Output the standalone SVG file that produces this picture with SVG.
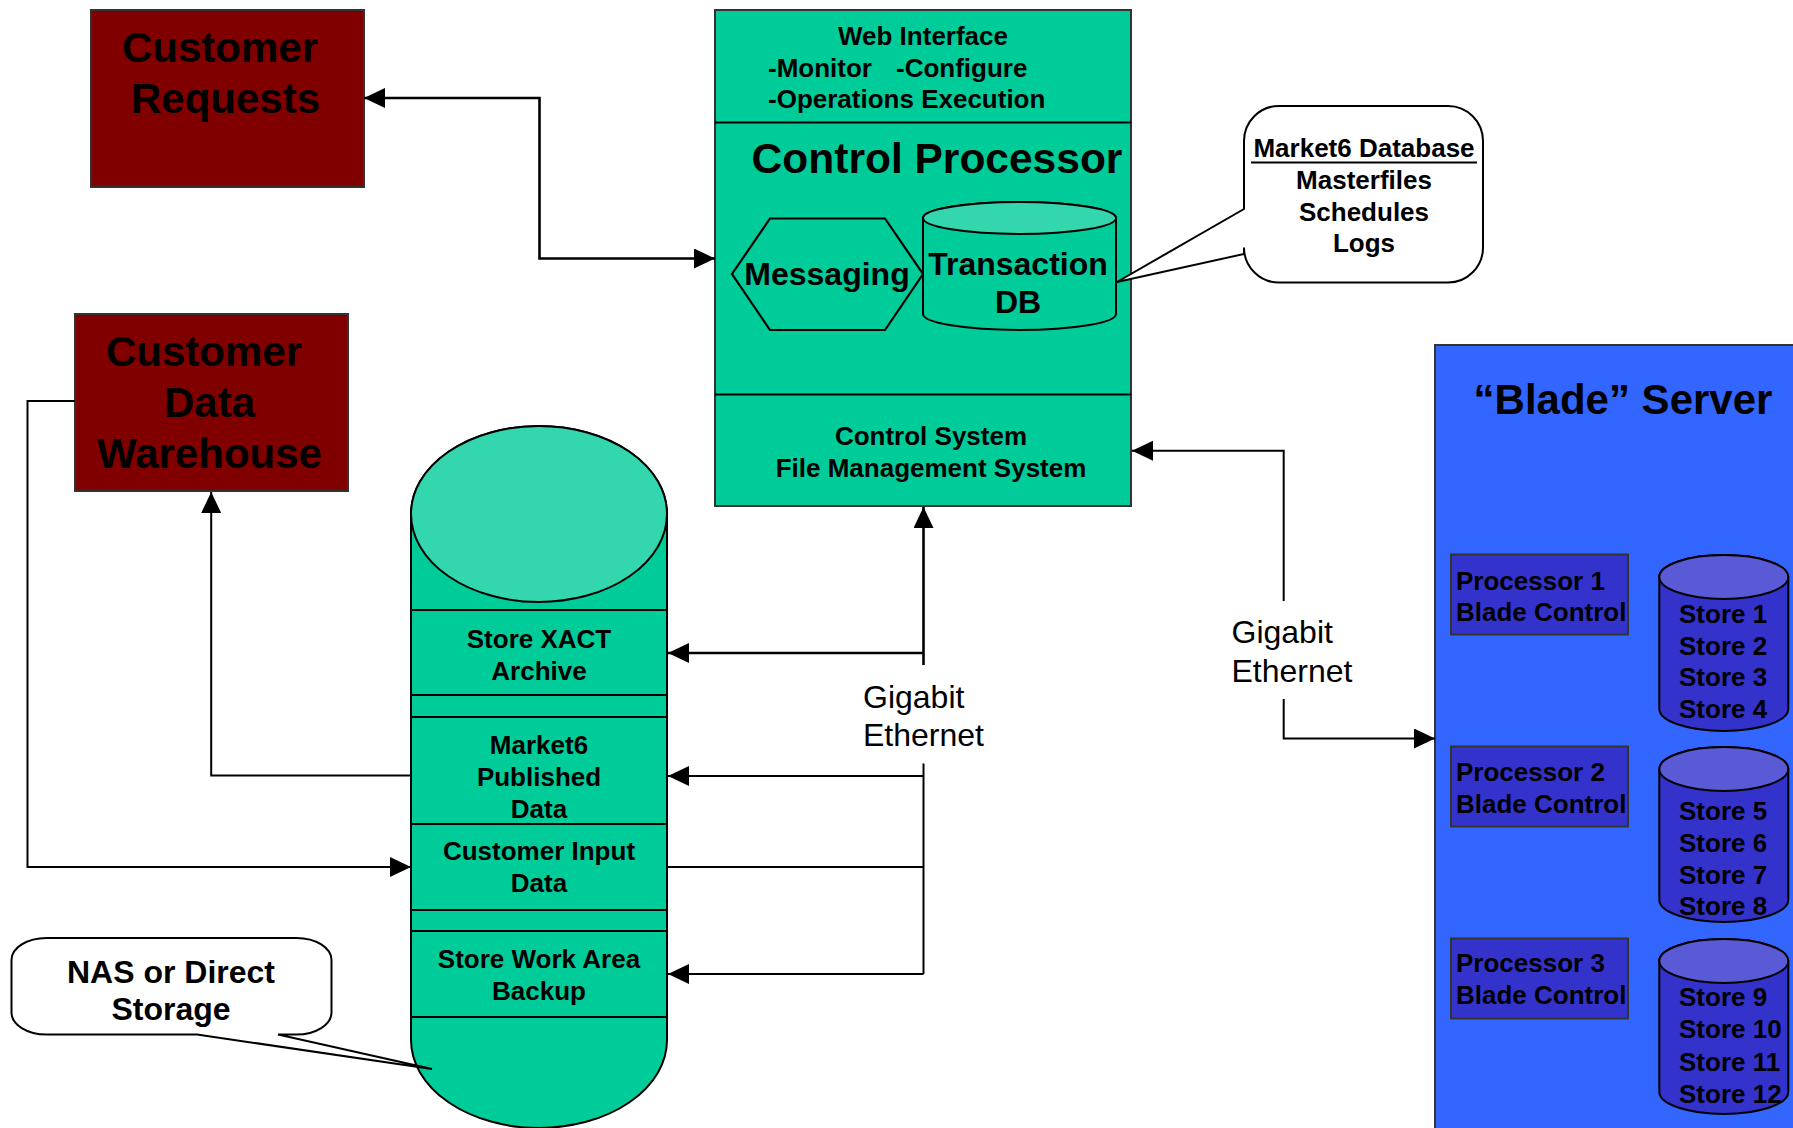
<svg xmlns="http://www.w3.org/2000/svg" width="1793" height="1128" viewBox="0 0 1793 1128">
  <defs>
    <marker id="arrow" markerUnits="userSpaceOnUse" markerWidth="22" markerHeight="22" refX="21" refY="10" orient="auto-start-reverse">
      <path d="M0,0 L21,10 L0,20 Z" fill="#000"/>
    </marker>
  </defs>
  <style>
    text { font-family: "Liberation Sans", Arial, Helvetica, sans-serif; font-weight: bold; fill: #000; }
    .t42 { font-size: 42px; }
    .t32 { font-size: 32px; }
    .t26 { font-size: 26px; }
    .mid { text-anchor: middle; }
    .reg { font-weight: normal; font-size: 32px; }
    .box { stroke: #333; stroke-width: 2; }
    .maroon { fill: #800000; }
    .green { fill: #00CC99; }
    .lgreen { fill: #33D6AD; }
    .blue { fill: #3366FF; }
    .dblue { fill: #3333CC; }
    .lblue { fill: #5A5AD6; }
    .edge { stroke: #000; stroke-width: 2; fill: none; }
    .wire { fill: none; stroke: #000; stroke-width: 2; }
    .thick { stroke-width: 2.6; }
    .bubble { fill: #fff; stroke: #000; stroke-width: 2; }
  </style>

  <!-- Customer Requests -->
  <g id="customer-requests">
    <rect class="box maroon" x="91" y="10" width="273" height="177"/>
    <text class="t42 mid" x="220" y="62">Customer</text>
    <text class="t42 mid" x="225.5" y="113">Requests</text>
  </g>

  <!-- Customer Data Warehouse -->
  <g id="customer-data-warehouse">
    <rect class="box maroon" x="75" y="314" width="273" height="177"/>
    <text class="t42 mid" x="204" y="366">Customer</text>
    <text class="t42 mid" x="209.5" y="417">Data</text>
    <text class="t42 mid" x="209.5" y="468">Warehouse</text>
  </g>

  <!-- Control Processor -->
  <g id="control-processor">
    <rect class="box green" x="715" y="10" width="416" height="496"/>
    <line class="edge" x1="715" y1="122.5" x2="1131" y2="122.5"/>
    <line class="edge" x1="715" y1="394.5" x2="1131" y2="394.5"/>
    <text class="t26 mid" x="923" y="45">Web Interface</text>
    <text class="t26" x="768" y="77">-Monitor</text>
    <text class="t26" x="896" y="77">-Configure</text>
    <text class="t26" x="768" y="108">-Operations Execution</text>
    <text class="t42 mid" x="937" y="173" style="font-size:42.5px">Control Processor</text>
    <g id="messaging">
      <polygon points="732,274 770,218.5 885,218.5 923,274 885,330 770,330" fill="#00CC99" stroke="#000" stroke-width="2.2"/>
      <text class="t32 mid" x="827" y="285">Messaging</text>
    </g>
    <g id="transaction-db">
      <path d="M923,218 A96.5,16 0 0 1 1116,218 L1116,314 A96.5,16 0 0 1 923,314 Z" class="green" stroke="#000" stroke-width="2"/>
      <ellipse cx="1019.5" cy="218" rx="96.5" ry="16" class="lgreen" stroke="#000" stroke-width="2"/>
      <text class="t32 mid" x="1018" y="275">Transaction</text>
      <text class="t32 mid" x="1018" y="313">DB</text>
    </g>
    <text class="t26 mid" x="931" y="445">Control System</text>
    <text class="t26 mid" x="931" y="477">File Management System</text>
  </g>

  <!-- Market6 Database callout -->
  <g id="market6-database">
    <path class="bubble" d="M1244,209 L1117,282 L1244,254 L1244,247.5 A35,35 0 0 0 1279,282.5 L1448,282.5 A35,35 0 0 0 1483,247.5 L1483,141 A35,35 0 0 0 1448,106 L1279,106 A35,35 0 0 0 1244,141 Z"/>
    <text class="t26 mid" x="1364" y="157">Market6 Database</text>
    <line x1="1251" y1="162.5" x2="1477" y2="162.5" stroke="#000" stroke-width="2.2"/>
    <text class="t26 mid" x="1364" y="189">Masterfiles</text>
    <text class="t26 mid" x="1364" y="221">Schedules</text>
    <text class="t26 mid" x="1364" y="252">Logs</text>
  </g>

  <!-- Blade Server -->
  <g id="blade-server">
    <rect class="box blue" x="1435" y="345" width="370" height="800"/>
    <text class="t42 mid" x="1623" y="414">“Blade” Server</text>

    <g id="processor-1">
      <rect class="box dblue" x="1451" y="554.5" width="177" height="80"/>
      <text class="t26" x="1456" y="589.5">Processor 1</text>
      <text class="t26" x="1456" y="621">Blade Control</text>
    </g>
    <g id="processor-2">
      <rect class="box dblue" x="1451" y="746.5" width="177" height="80"/>
      <text class="t26" x="1456" y="780.5">Processor 2</text>
      <text class="t26" x="1456" y="812.5">Blade Control</text>
    </g>
    <g id="processor-3">
      <rect class="box dblue" x="1451" y="938.5" width="177" height="80"/>
      <text class="t26" x="1456" y="972">Processor 3</text>
      <text class="t26" x="1456" y="1004">Blade Control</text>
    </g>

    <g id="stores-1-4">
      <path d="M1659.3,577 A64.5,22 0 0 1 1788.3,577 L1788.3,709 A64.5,22 0 0 1 1659.3,709 Z" class="dblue" stroke="#000" stroke-width="2"/>
      <ellipse cx="1723.8" cy="577" rx="64.5" ry="22" class="lblue" stroke="#000" stroke-width="2"/>
      <text class="t26" x="1679" y="622.5">Store 1</text>
      <text class="t26" x="1679" y="654.5">Store 2</text>
      <text class="t26" x="1679" y="686">Store 3</text>
      <text class="t26" x="1679" y="718">Store 4</text>
    </g>
    <g id="stores-5-8">
      <path d="M1659.3,769 A64.5,22 0 0 1 1788.3,769 L1788.3,900 A64.5,22 0 0 1 1659.3,900 Z" class="dblue" stroke="#000" stroke-width="2"/>
      <ellipse cx="1723.8" cy="769" rx="64.5" ry="22" class="lblue" stroke="#000" stroke-width="2"/>
      <text class="t26" x="1679" y="819.5">Store 5</text>
      <text class="t26" x="1679" y="851.5">Store 6</text>
      <text class="t26" x="1679" y="883.5">Store 7</text>
      <text class="t26" x="1679" y="915">Store 8</text>
    </g>
    <g id="stores-9-12">
      <path d="M1659.3,961 A64.5,22 0 0 1 1788.3,961 L1788.3,1092 A64.5,22 0 0 1 1659.3,1092 Z" class="dblue" stroke="#000" stroke-width="2"/>
      <ellipse cx="1723.8" cy="961" rx="64.5" ry="22" class="lblue" stroke="#000" stroke-width="2"/>
      <text class="t26" x="1679" y="1006">Store 9</text>
      <text class="t26" x="1679" y="1038">Store 10</text>
      <text class="t26" x="1679" y="1070.5">Store 11</text>
      <text class="t26" x="1679" y="1102.5">Store 12</text>
    </g>
  </g>

  <!-- Storage cylinder -->
  <g id="storage">
    <path d="M411,514 A128,88 0 0 1 667,514 L667,1040 A128,88 0 0 1 411,1040 Z" class="green" stroke="#000" stroke-width="2"/>
    <ellipse cx="539" cy="514" rx="128" ry="88" class="lgreen" stroke="#000" stroke-width="2"/>
    <g id="store-xact-archive">
      <rect x="411" y="610" width="256" height="85" class="green" stroke="#000" stroke-width="2"/>
      <text class="t26 mid" x="539" y="647.5">Store XACT</text>
      <text class="t26 mid" x="539" y="679.5">Archive</text>
    </g>
    <g id="published-data">
      <rect x="411" y="717" width="256" height="107" class="green" stroke="#000" stroke-width="2"/>
      <text class="t26 mid" x="539" y="754">Market6</text>
      <text class="t26 mid" x="539" y="786">Published</text>
      <text class="t26 mid" x="539" y="818">Data</text>
    </g>
    <g id="customer-input-data">
      <rect x="411" y="824" width="256" height="86" class="green" stroke="#000" stroke-width="2"/>
      <text class="t26 mid" x="539" y="860">Customer Input</text>
      <text class="t26 mid" x="539" y="892">Data</text>
    </g>
    <g id="store-work-area">
      <rect x="411" y="931" width="256" height="86" class="green" stroke="#000" stroke-width="2"/>
      <text class="t26 mid" x="539" y="967.5">Store Work Area</text>
      <text class="t26 mid" x="539" y="1000">Backup</text>
    </g>
  </g>

  <!-- NAS callout -->
  <g id="nas-callout">
    <path class="bubble" d="M197,1034.5 L432,1069 L278,1034.5 L296.5,1034.5 A35,22 0 0 0 331.5,1012.5 L331.5,960 A35,22 0 0 0 296.5,938 L46.5,938 A35,22 0 0 0 11.5,960 L11.5,1012.5 A35,22 0 0 0 46.5,1034.5 Z"/>
    <text class="t32 mid" x="171" y="983">NAS or Direct</text>
    <text class="t32 mid" x="171" y="1020">Storage</text>
  </g>

  <!-- Connectors -->
  <g id="connectors">
    <path class="wire thick" d="M364,98 L539.5,98 L539.5,258.5 L715,258.5" marker-start="url(#arrow)" marker-end="url(#arrow)"/>

    <!-- left gigabit bus -->
    <path class="wire thick" d="M923.5,665 L923.5,507" marker-end="url(#arrow)"/>
    <path class="wire thick" d="M923.5,653 L668,653" marker-end="url(#arrow)"/>
    <path class="wire" d="M923.5,763.5 L923.5,974"/>
    <path class="wire" d="M923.5,776 L668,776" marker-end="url(#arrow)"/>
    <path class="wire" d="M923.5,867 L667,867"/>
    <path class="wire" d="M923.5,974 L668,974" marker-end="url(#arrow)"/>
    <text class="reg" x="863" y="707.5">Gigabit</text>
    <text class="reg" x="863" y="746">Ethernet</text>

    <!-- right gigabit link -->
    <path class="wire" d="M1283.7,601 L1283.7,450.7 L1132,450.7" marker-end="url(#arrow)"/>
    <path class="wire" d="M1283.7,699 L1283.7,738.5 L1435,738.5" marker-end="url(#arrow)"/>
    <text class="reg" x="1231.5" y="643">Gigabit</text>
    <text class="reg" x="1231.5" y="681.5">Ethernet</text>

    <!-- warehouse links -->
    <path class="wire" d="M411,775.5 L211.2,775.5 L211.2,492" marker-end="url(#arrow)"/>
    <path class="wire" d="M75,401 L27.5,401 L27.5,867 L411,867" marker-end="url(#arrow)"/>
  </g>
</svg>
